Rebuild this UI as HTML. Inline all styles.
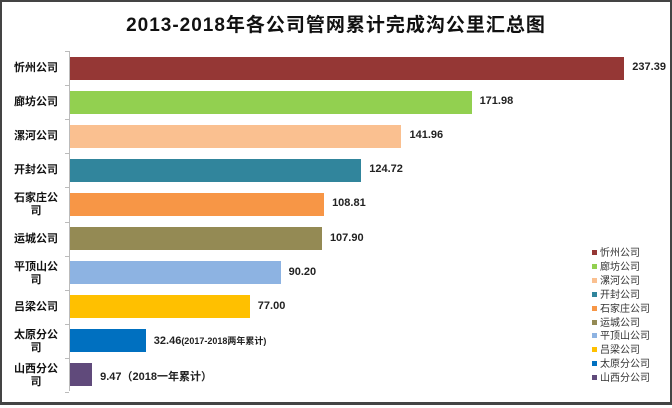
<!DOCTYPE html><html><head><meta charset="utf-8"><style>
body{margin:0;width:672px;height:408px;background:#fff;overflow:hidden}
.f{position:absolute;left:0;top:0;width:668px;height:400px;border:2px solid #444;border-bottom:3px solid #444}
.t{position:absolute;top:10px;left:0;width:672px;text-align:center;font:bold 19px "Liberation Sans","Noto Sans CJK SC",sans-serif;color:#111;letter-spacing:1px}
.ax{position:absolute;left:69px;top:51px;width:1px;height:340px;background:#bbb}
.tk{position:absolute;left:65px;width:4px;height:1px;background:#bbb}
.b{position:absolute;left:70px;height:23px}
.l{position:absolute;left:8px;width:56px;text-align:center;font:bold 11px "Noto Sans CJK SC",sans-serif;color:#111;line-height:13px}
.v{position:absolute;font:bold 11px "Liberation Sans","Noto Sans CJK SC",sans-serif;color:#222}
.lg{position:absolute;left:592px;top:245px;font:10px "Noto Sans CJK SC",sans-serif;color:#333;line-height:13.9px}
.lg i{display:inline-block;width:5px;height:5px;margin-right:3px;vertical-align:1px}
</style></head><body><div class="f"></div>
<div class="t">2013-2018年各公司管网累计完成沟公里汇总图</div>
<div class="ax"></div>
<div id="c"></div>
<div class="lg">
<div><i style="background:#953735"></i>忻州公司</div>
<div><i style="background:#92d050"></i>廊坊公司</div>
<div><i style="background:#fac090"></i>漯河公司</div>
<div><i style="background:#31859c"></i>开封公司</div>
<div><i style="background:#f79646"></i>石家庄公司</div>
<div><i style="background:#948a54"></i>运城公司</div>
<div><i style="background:#8db3e2"></i>平顶山公司</div>
<div><i style="background:#ffc000"></i>吕梁公司</div>
<div><i style="background:#0070c0"></i>太原分公司</div>
<div><i style="background:#604a7b"></i>山西分公司</div>
</div>
<script>
var d=[["忻州公司",237.39,"#953735","237.39"],["廊坊公司",171.98,"#92d050","171.98"],["漯河公司",141.96,"#fac090","141.96"],["开封公司",124.72,"#31859c","124.72"],["石家庄公<br>司",108.81,"#f79646","108.81"],["运城公司",107.90,"#948a54","107.90"],["平顶山公<br>司",90.20,"#8db3e2","90.20"],["吕梁公司",77.00,"#ffc000","77.00"],["太原分公<br>司",32.46,"#0070c0","32.46<span style='font-size:9px'>(2017-2018两年累计)</span>"],["山西分公<br>司",9.47,"#604a7b","9.47（2018一年累计）"]];
var h="";for(var i=0;i<10;i++){var c=68+i*34.1,w=d[i][1]*2.335,two=d[i][0].indexOf("<br>")>0;
h+='<div class="b" style="top:'+(c-11.5)+'px;width:'+w+'px;background:'+d[i][2]+'"></div>';
h+='<div class="l" style="top:'+(c-(two?13:7))+'px">'+d[i][0]+'</div>';
h+='<div class="v" style="top:'+(c-7)+'px;left:'+(70+w+8)+'px">'+d[i][3]+'</div>';
h+='<div class="tk" style="top:'+(c-17)+'px"></div>';}
h+='<div class="tk" style="top:'+(68+10*34.1-17)+'px"></div>';
document.getElementById("c").innerHTML=h;
</script></body></html>
